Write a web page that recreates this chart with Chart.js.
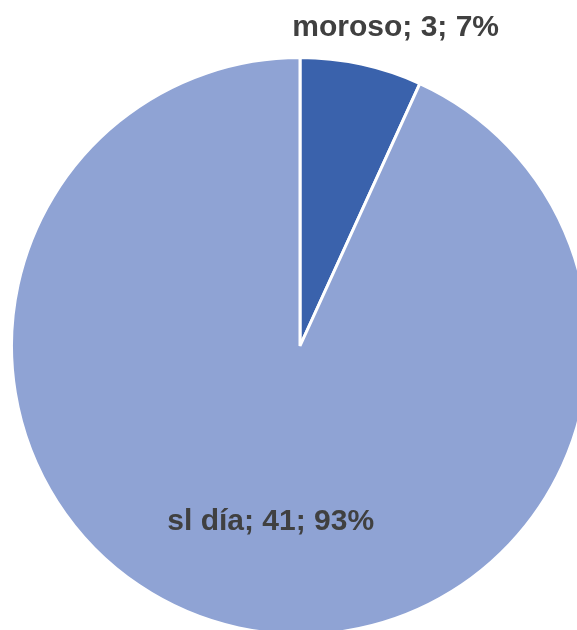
<!DOCTYPE html>
<html>
<head>
<meta charset="utf-8">
<script src="https://cdn.jsdelivr.net/npm/chart.js@4/dist/chart.umd.min.js"></script>
<style>
  html, body { margin: 0; padding: 0; background: #ffffff; overflow: hidden; width: 577px; height: 630px; }
  #wrap { position: absolute; left: 10px; top: -2px; width: 580px; height: 696px; }
</style>
</head>
<body>
<div id="wrap"><canvas id="c"></canvas></div>
<script>
const categories = ["moroso", "sl día"];
const values = [3, 41];
const colors = ["#3A62AC", "#8FA3D4"];

const total = values.reduce((a, b) => a + b, 0);
const labelText = categories.map((c, i) => c + "; " + values[i] + "; " + Math.round(values[i] / total * 100) + "%");

const labelPlugin = {
  id: "sliceLabels",
  afterDatasetsDraw(chart) {
    const ctx = chart.ctx;
    const meta = chart.getDatasetMeta(0);
    ctx.save();
    ctx.font = "bold 30px 'Liberation Sans', Arial, sans-serif";
    ctx.fillStyle = "#404040";
    ctx.textAlign = "center";
    ctx.textBaseline = "middle";
    meta.data.forEach((arc, i) => {
      const p = arc.getProps(["x", "y", "startAngle", "endAngle", "outerRadius"], true);
      const mid = (p.startAngle + p.endAngle) / 2;
      let x, y;
      if (i === 0) {
        // outside label above the small slice
        const d = p.outerRadius * 1.12;
        x = p.x + Math.cos(mid) * d + 27;
        y = Math.max(p.y + Math.sin(mid) * d - 10, 30);
      } else {
        const d = p.outerRadius * 0.625;
        x = p.x + Math.cos(mid) * d + 9;
        y = p.y + Math.sin(mid) * d;
      }
      ctx.fillText(labelText[i], x, y);
    });
    ctx.restore();
  }
};

new Chart(document.getElementById("c"), {
  type: "pie",
  data: {
    labels: categories,
    datasets: [{
      data: values,
      backgroundColor: colors,
      borderColor: "#ffffff",
      borderWidth: 3
    }]
  },
  options: {
    responsive: true,
    maintainAspectRatio: false,
    animation: false,
    layout: { padding: 0 },
    plugins: {
      legend: { display: false },
      tooltip: { enabled: false }
    }
  },
  plugins: [labelPlugin]
});
</script>
</body>
</html>
